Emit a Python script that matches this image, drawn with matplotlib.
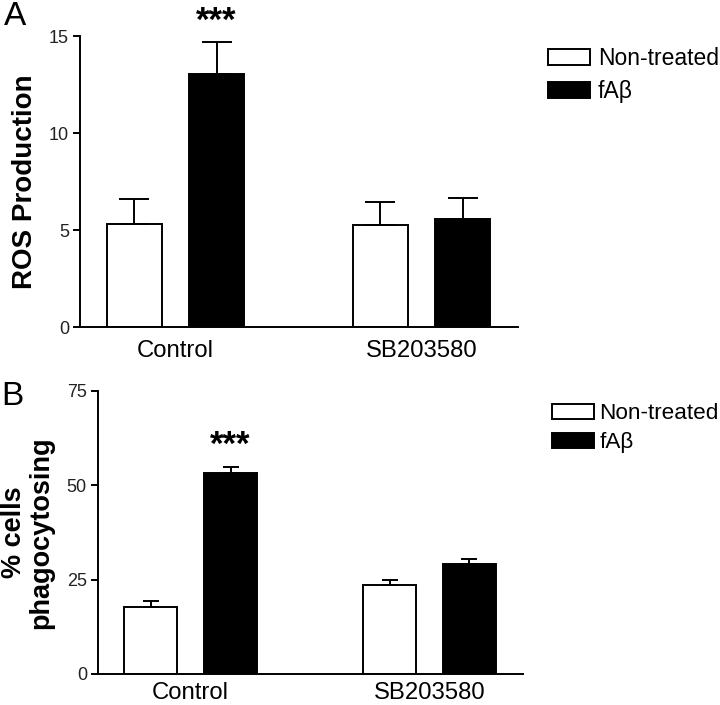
import numpy as np
import matplotlib
matplotlib.use('Agg')
import matplotlib.pyplot as plt
from matplotlib.patches import Patch

plt.rcParams['font.family'] = ['Liberation Sans', 'DejaVu Sans']

# ------------------------------------------------------------------------------------- #
# data
groups = ['Control', 'SB203580']
series = ['Non-treated', 'fA\u03b2']

ros_nontreated = [5.32, 5.25]
ros_nontreated_err = [1.27, 1.22]
ros_fab = [13.04, 5.59]
ros_fab_err = [1.67, 1.05]
ros_ticks = [0, 5, 10, 15]

phago_nontreated = [17.8, 23.5]
phago_nontreated_err = [1.6, 1.4]
phago_fab = [53.1, 29.0]
phago_fab_err = [1.8, 1.4]
phago_ticks = [0, 25, 50, 75]

# ------------------------------------------------------------------------------------- #
width = 0.222
offset = 0.167
lw = 1.4


def draw_panel(ax, nt, nt_err, fab, fab_err, ticks, ylabel, capsize, star_y, label_x,
               ylabel_size, xpad):
    x = np.arange(len(groups))
    ax.bar(x - offset, nt, width, color='white', edgecolor='black', linewidth=lw, zorder=2)
    ax.bar(x + offset, fab, width, color='black', edgecolor='black', linewidth=lw, zorder=2)
    ax.errorbar(x - offset, nt, yerr=[np.zeros(len(nt)), nt_err], fmt='none',
                ecolor='black', elinewidth=lw, capsize=capsize, capthick=lw, zorder=3)
    ax.errorbar(x + offset, fab, yerr=[np.zeros(len(fab)), fab_err], fmt='none',
                ecolor='black', elinewidth=lw, capsize=capsize, capthick=lw, zorder=1)
    ax.set_xlim(-0.388, 1.392)
    ax.set_ylim(ticks[0], ticks[-1])
    ax.set_yticks(ticks)
    ax.set_xticks(x)
    ax.set_xticklabels(groups, fontsize=17.2)
    ax.tick_params(axis='x', length=0, pad=xpad)
    ax.tick_params(axis='y', length=5, width=lw, labelsize=13, pad=3, colors='black',
                   labelcolor='#222222')
    for s in ['top', 'right']:
        ax.spines[s].set_visible(False)
    for s in ['left', 'bottom']:
        ax.spines[s].set_linewidth(lw)
    ax.set_ylabel(ylabel, fontsize=ylabel_size, fontweight='bold', linespacing=1.07)
    ax.yaxis.set_label_coords(label_x, 0.5)
    ax.text(x[0] + offset, star_y, '***', ha='center', va='center', fontsize=25,
            fontweight='bold', clip_on=False)
    handles = [Patch(facecolor='white', edgecolor='black', linewidth=lw),
               Patch(facecolor='black', edgecolor='black', linewidth=lw)]
    return handles


fig = plt.figure(figsize=(7.2, 7.05), dpi=100)
axA = fig.add_axes([0.1111, 0.5357, 0.6083, 0.4132])
axB = fig.add_axes([0.1361, 0.0440, 0.5903, 0.4019])

h = draw_panel(axA, ros_nontreated, ros_nontreated_err, ros_fab, ros_fab_err, ros_ticks,
               'ROS Production', 10.5, 15.74, -0.097, 20, 9)
axA.legend(h, series, loc='upper left', bbox_to_anchor=(1.068, 0.962), frameon=False,
           fontsize=16.5, handlelength=1.83, handleheight=0.7, handletextpad=0.35,
           labelspacing=0.45, borderaxespad=0, borderpad=0)

h = draw_panel(axB, phago_nontreated, phago_nontreated_err, phago_fab, phago_fab_err, phago_ticks,
               '% cells\nphagocytosing', 6, 60.5, -0.103, 19.5, 6)
axB.legend(h, series, loc='upper left', bbox_to_anchor=(1.068, 0.955), frameon=False,
           fontsize=16.2, handlelength=1.86, handleheight=0.62, handletextpad=0.25,
           labelspacing=0.35, borderaxespad=0, borderpad=0)

fig.text(0.005, 0.998, 'A', fontsize=24, ha='left', va='top')
fig.text(0.002, 0.459, 'B', fontsize=24, ha='left', va='top')

fig.savefig('out.png', dpi=100)
